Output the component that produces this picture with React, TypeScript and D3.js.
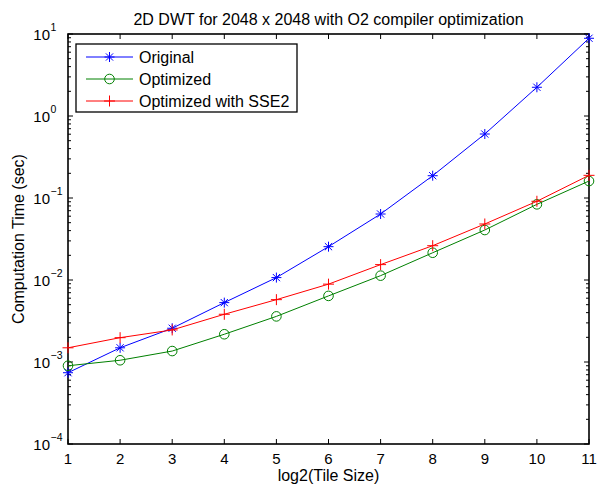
import * as d3 from "d3";

const tileLog = [1, 2, 3, 4, 5, 6, 7, 8, 9, 10, 11];
const original = [7.4e-4, 1.49e-3, 2.58e-3, 5.3e-3, 1.07e-2, 0.0255, 0.0638, 0.187, 0.603, 2.24, 8.87];
const optimized = [9.0e-4, 1.05e-3, 1.36e-3, 2.18e-3, 3.6e-3, 6.4e-3, 0.0113, 0.0215, 0.0407, 0.0837, 0.161];
const optimizedSse2 = [1.49e-3, 1.98e-3, 2.46e-3, 3.82e-3, 5.76e-3, 8.9e-3, 0.0154, 0.0262, 0.0482, 0.0912, 0.189];
const seriesNames = ["Original", "Optimized", "Optimized with SSE2"];
const seriesColors = ["#0000ff", "#008000", "#ff0000"];
const decades = [-4, -3, -2, -1, 0, 1];

const W = 597;
const H = 484;
const left = 68, right = 589, top = 34, bottom = 444;
const FONT = "'Liberation Sans', Arial, sans-serif";

function Marker({ kind, x, y, color }: { kind: number; x: number; y: number; color: string }) {
  if (kind === 0) {
    const s = 5, d = 3.6;
    return (
      <g stroke={color} strokeWidth={1}>
        <line x1={x - s} y1={y} x2={x + s} y2={y} />
        <line x1={x} y1={y - s} x2={x} y2={y + s} />
        <line x1={x - d} y1={y - d} x2={x + d} y2={y + d} />
        <line x1={x - d} y1={y + d} x2={x + d} y2={y - d} />
      </g>
    );
  }
  if (kind === 1) {
    return <circle cx={x} cy={y} r={4.8} fill="none" stroke={color} strokeWidth={1} />;
  }
  const s = 5.5;
  return (
    <g stroke={color} strokeWidth={1}>
      <line x1={x - s} y1={y} x2={x + s} y2={y} />
      <line x1={x} y1={y - s} x2={x} y2={y + s} />
    </g>
  );
}

export default function App() {
  const x = d3.scaleLinear().domain([1, 11]).range([left, right]);
  const y = d3.scaleLog().domain([1e-4, 10]).range([bottom, top]);

  const line = d3
    .line<number>()
    .x((_, i) => x(tileLog[i]))
    .y((v) => y(v));

  const allSeries = [original, optimized, optimizedSse2];

  // minor ticks 2..9 in each decade
  const minor: number[] = [];
  decades.slice(0, -1).forEach((e) => {
    for (let k = 2; k <= 9; k++) minor.push(k * Math.pow(10, e));
  });

  return (
    <svg width={W} height={H} style={{ position: "absolute", left: 0, top: 0 }} fontFamily={FONT}>
      <rect x={0} y={0} width={W} height={H} fill="#fff" />
      <text x={(left + right) / 2} y={25} textAnchor="middle" fontSize={16}>
        2D DWT for 2048 x 2048 with O2 compiler optimization
      </text>

      {/* x ticks */}
      {tileLog.map((t) => (
        <g key={"xt" + t}>
          <line x1={x(t)} x2={x(t)} y1={bottom} y2={bottom - 5} stroke="#000" />
          <line x1={x(t)} x2={x(t)} y1={top} y2={top + 5} stroke="#000" />
          <text x={x(t)} y={464} textAnchor="middle" fontSize={15}>
            {t}
          </text>
        </g>
      ))}

      {/* y ticks */}
      {decades.map((e) => (
        <g key={"yt" + e}>
          <line x1={left} x2={left + 5} y1={y(Math.pow(10, e))} y2={y(Math.pow(10, e))} stroke="#000" />
          <line x1={right} x2={right - 5} y1={y(Math.pow(10, e))} y2={y(Math.pow(10, e))} stroke="#000" />
          <text x={50} y={y(Math.pow(10, e)) + 5.5} textAnchor="end" fontSize={15}>
            10
          </text>
          <text x={50.5} y={y(Math.pow(10, e)) - 3} fontSize={10.5}>
            {e < 0 ? "\u2212" + Math.abs(e) : String(e)}
          </text>
        </g>
      ))}
      {minor.map((m, i) => (
        <g key={"mn" + i}>
          <line x1={left} x2={left + 3} y1={y(m)} y2={y(m)} stroke="#000" />
          <line x1={right} x2={right - 3} y1={y(m)} y2={y(m)} stroke="#000" />
        </g>
      ))}

      <rect x={left} y={top} width={right - left} height={bottom - top} fill="none" stroke="#000" strokeWidth={1.6} />

      {allSeries.map((s, si) => (
        <g key={"s" + si}>
          <path d={line(s) || ""} fill="none" stroke={seriesColors[si]} strokeWidth={1} />
          {s.map((v, i) => (
            <Marker key={i} kind={si} x={x(tileLog[i])} y={y(v)} color={seriesColors[si]} />
          ))}
        </g>
      ))}

      {/* legend */}
      <rect x={76} y={44} width={221} height={68} fill="#fff" stroke="#000" strokeWidth={1.3} />
      {seriesNames.map((name, i) => {
        const ry = 57 + i * 22;
        return (
          <g key={"lg" + i}>
            <line x1={86} x2={133} y1={ry} y2={ry} stroke={seriesColors[i]} strokeWidth={1} />
            <Marker kind={i} x={109.5} y={ry} color={seriesColors[i]} />
            <text x={139} y={ry + 5.5} fontSize={16}>
              {name}
            </text>
          </g>
        );
      })}

      <text x={(left + right) / 2} y={481} textAnchor="middle" fontSize={16}>
        log2(Tile Size)
      </text>
      <text
        transform={`translate(24, ${(top + bottom) / 2}) rotate(-90)`}
        textAnchor="middle"
        fontSize={16}
      >
        Computation Time (sec)
      </text>
    </svg>
  );
}
